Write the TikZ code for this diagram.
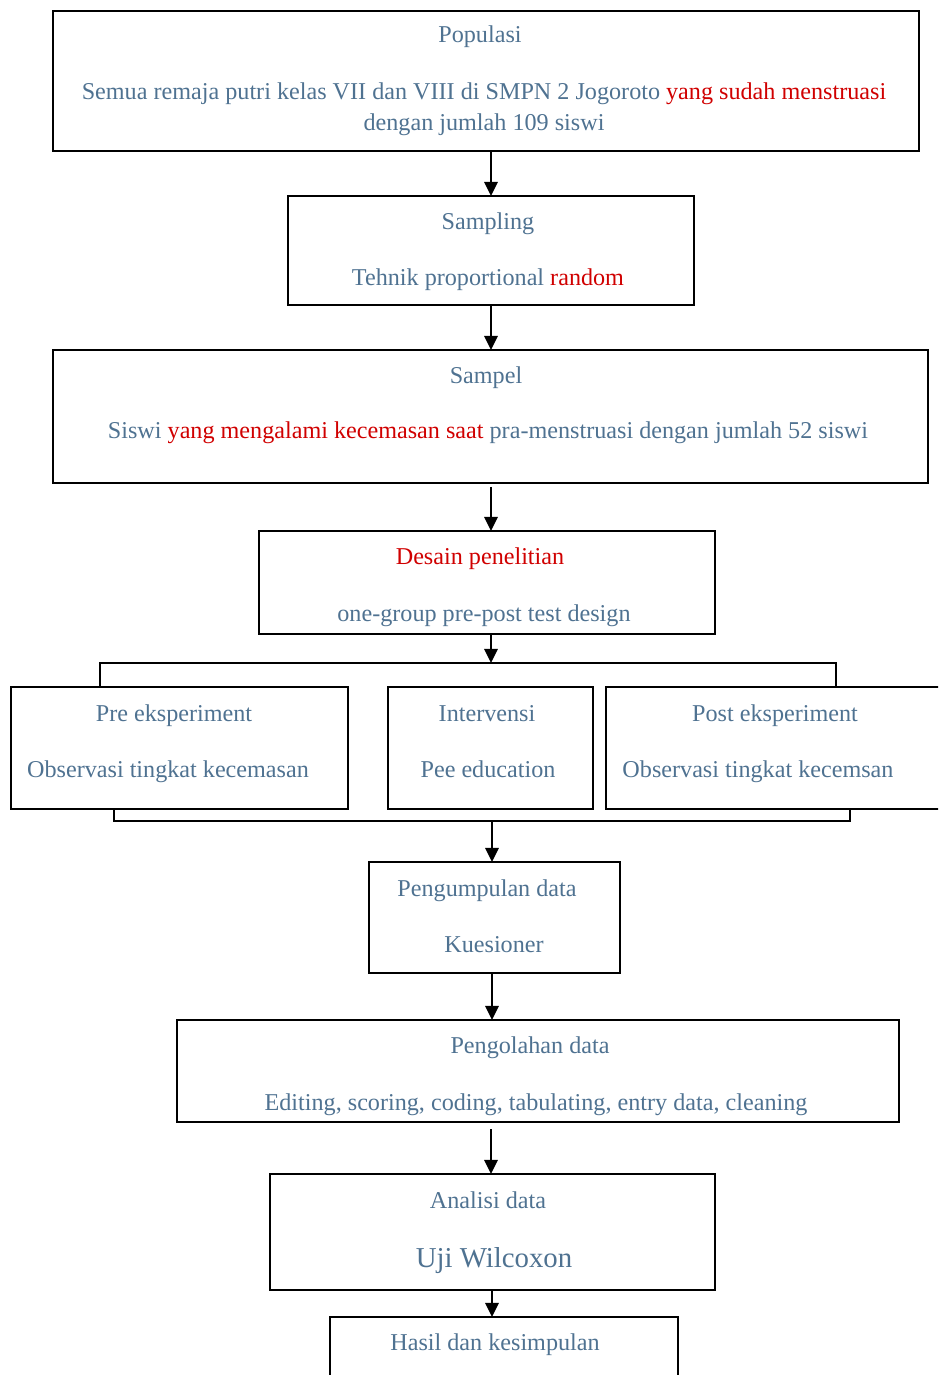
\documentclass[tikz,border=0pt]{standalone}
\usepackage{fontspec}
\setmainfont{Liberation Serif}
\usetikzlibrary{positioning,arrows.meta,calc,fit}
\definecolor{ink}{HTML}{4F7291}
\definecolor{redtext}{HTML}{D00000}
\tikzset{
  box/.style={draw=black,line width=1.1pt,inner sep=0pt,outer sep=0pt},
  txt/.style={text=ink,inner sep=0pt,yshift=-1.7pt,text height=0.72em,text depth=0.22em,font=\fontsize{13.75}{16}\selectfont},
  bigtxt/.style={txt,font=\fontsize{16.4}{19}\selectfont},
  arrow/.style={-{Triangle[length=8pt,width=7.6pt]},line width=1.1pt},
  joint/.style={line width=1.1pt}
}
\newcommand{\hl}[1]{\textcolor{redtext}{#1}}

\begin{document}
\begin{tikzpicture}[x=0.02cm,y=-0.02cm]
  \clip (0,0) rectangle (938,1375);
  % boxes
  \node[box,fit={(53,11) (919,151)}] (pop) {};
  \node[box,fit={(288,196) (694,305)}] (samp) {};
  \node[box,fit={(53,350) (928,483)}] (sel) {};
  \node[box,fit={(259,531) (715,634)}] (des) {};
  \node[box,fit={(11,687) (348,809)}] (pre) {};
  \node[box,fit={(388,687) (593,809)}] (int) {};
  \node[box,fit={(606,687) (960,809)}] (post) {};
  \node[box,fit={(369,862) (620,973)}] (kum) {};
  \node[box,fit={(177,1020) (899,1122)}] (ola) {};
  \node[box,fit={(270,1174) (715,1290)}] (ana) {};
  \node[box,fit={(330,1317) (678,1420)}] (has) {};

  % texts
  \node[txt] (popT) at (480,35) {Populasi};
  \node[txt] (popB1) at (484,92) {Semua remaja putri kelas VII dan VIII di SMPN 2 Jogoroto \hl{yang sudah menstruasi}};
  \node[txt] (popB2) at (484,123) {dengan jumlah 109 siswi};
  \node[txt] (sampT) at (488,222) {Sampling};
  \node[txt] (sampB) at (488,278) {Tehnik proportional \hl{random}};
  \node[txt] (selT) at (486,376) {Sampel};
  \node[txt] (selB) at (488,431) {Siswi \hl{yang mengalami kecemasan saat} pra-menstruasi dengan jumlah 52 siswi};
  \node[txt,text=redtext] (desT) at (480,557) {Desain penelitian};
  \node[txt] (desB) at (484,614) {one-group pre-post test design};
  \node[txt] (preT) at (174,714) {Pre eksperiment};
  \node[txt] (preB) at (168,770) {Observasi tingkat kecemasan};
  \node[txt] (intT) at (487,714) {Intervensi};
  \node[txt] (intB) at (488,770) {Pee education};
  \node[txt] (postT) at (775,714) {Post eksperiment};
  \node[txt] (postB) at (758,770) {Observasi tingkat kecemsan};
  \node[txt] (kumT) at (487,889) {Pengumpulan data};
  \node[txt] (kumB) at (494,945) {Kuesioner};
  \node[txt] (olaT) at (530,1046) {Pengolahan data};
  \node[txt] (olaB) at (536,1103) {Editing, scoring, coding, tabulating, entry data, cleaning};
  \node[txt] (anaT) at (488,1201) {Analisi data};
  \node[bigtxt] (anaB) at (494,1260) {Uji Wilcoxon};
  \node[txt] (hasT) at (495,1343) {Hasil dan kesimpulan};

  % connectors
  \coordinate (ax) at (491,0);
  \coordinate (bx) at (492,0);
  \coordinate (tl) at (100,663);
  \coordinate (tr) at (836,663);
  \coordinate (bl) at (114,821);
  \coordinate (br) at (850,821);
  \draw[arrow] (pop.south -| ax) -- (samp.north -| ax);
  \draw[arrow] (samp.south -| ax) -- (sel.north -| ax);
  \draw[arrow,shorten <=2.2pt] (sel.south -| ax) -- (des.north -| ax);
  \draw[arrow] (des.south -| ax) -- (tl -| ax);
  \draw[joint] (pre.north -| tl) -- (tl) -- (tr) -- (post.north -| tr);
  \draw[joint] (pre.south -| bl) -- (bl) -- (br) -- (post.south -| br);
  \draw[arrow] (bl -| bx) -- (kum.north -| bx);
  \draw[arrow] (kum.south -| bx) -- (ola.north -| bx);
  \draw[arrow,shorten <=4pt] (ola.south -| ax) -- (ana.north -| ax);
  \draw[arrow] (ana.south -| bx) -- (has.north -| bx);
\end{tikzpicture}
\end{document}
